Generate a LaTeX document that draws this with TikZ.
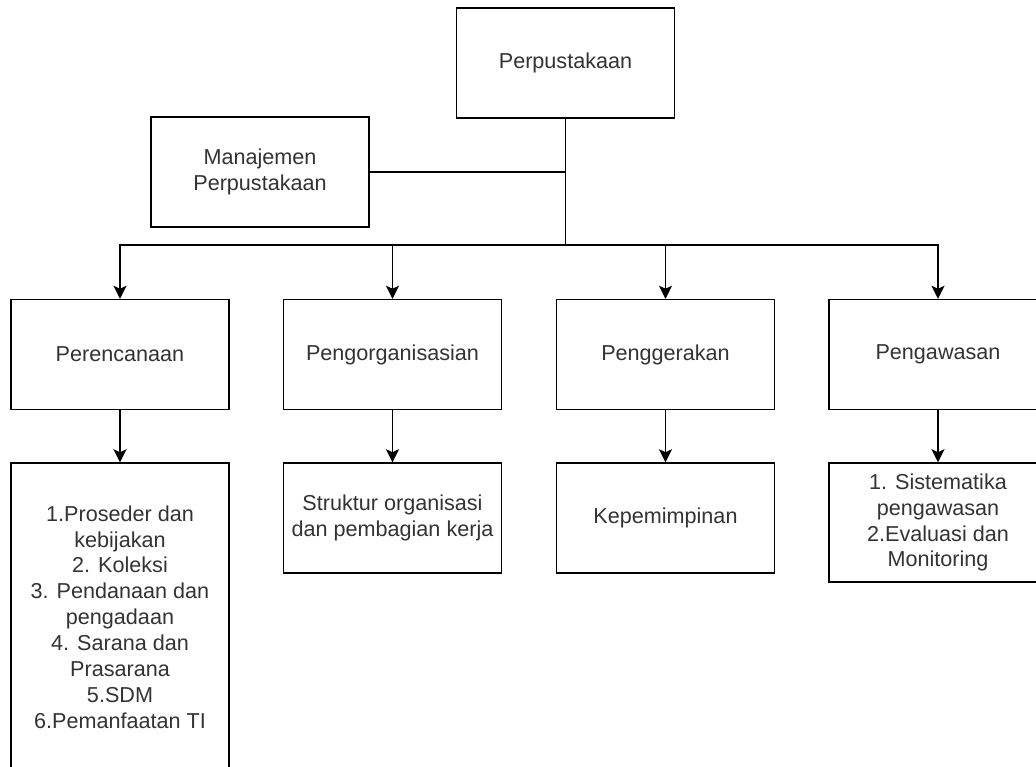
\documentclass[tikz,border=0pt]{standalone}
\usepackage{fontspec}
\setmainfont{Liberation Sans}
\usetikzlibrary{arrows.meta}
\tikzset{
  box/.style={draw=black, line width=1.1pt, fill=white, align=center,
    minimum width=163.5pt, minimum height=82.5pt, inner sep=0pt,
    text=black!80, font=\fontsize{16.2pt}{19.4pt}\selectfont},
  conn/.style={draw=black, line width=1.1pt},
  arr/.style={conn, -{Stealth[length=9.75pt, width=9.75pt, inset=2.2pt]}}
}
\begin{document}
\begin{tikzpicture}[x=0.75pt, y=-0.75pt]
\useasboundingbox (0,0) rectangle (1036,767);
% top
\node[box] (perp) at (565.5,63) {Perpustakaan};
\node[box] (man) at (260,172) {Manajemen\\Perpustakaan};
\coordinate (bus) at (565.5,245);
% first row
\node[box] (p1) at (120,354.5) {Perencanaan};
\node[box] (p2) at (392.5,354.5) {Pengorganisasian};
\node[box] (p3) at (665.5,354.5) {Penggerakan};
\node[box] (p4) at (938,354.5) {Pengawasan};
% second row
\node[box, minimum height=231pt] (q1) at (120,617) {1.Proseder dan\\kebijakan\\2. Koleksi\\3. Pendanaan dan\\pengadaan\\4. Sarana dan\\Prasarana\\5.SDM\\6.Pemanfaatan TI};
\node[box] (q2) at (392.5,518) {Struktur organisasi\\dan pembagian kerja};
\node[box] (q3) at (665.5,518) {Kepemimpinan};
\node[box, minimum height=89.25pt] (q4) at (938,522.5) {1. Sistematika\\pengawasan\\2.Evaluasi dan\\Monitoring};
% connectors
\draw[conn] (perp.south) -- (bus);
\draw[conn] (man.east) -- (perp.south |- man.east);
\draw[arr] (bus) -| (p1.north);
\draw[arr] (bus) -| (p2.north);
\draw[arr] (bus) -| (p3.north);
\draw[arr] (bus) -| (p4.north);
\draw[arr] (p1) -- (q1);
\draw[arr] (p2) -- (q2);
\draw[arr] (p3) -- (q3);
\draw[arr] (p4) -- (q4);
\end{tikzpicture}
\end{document}
